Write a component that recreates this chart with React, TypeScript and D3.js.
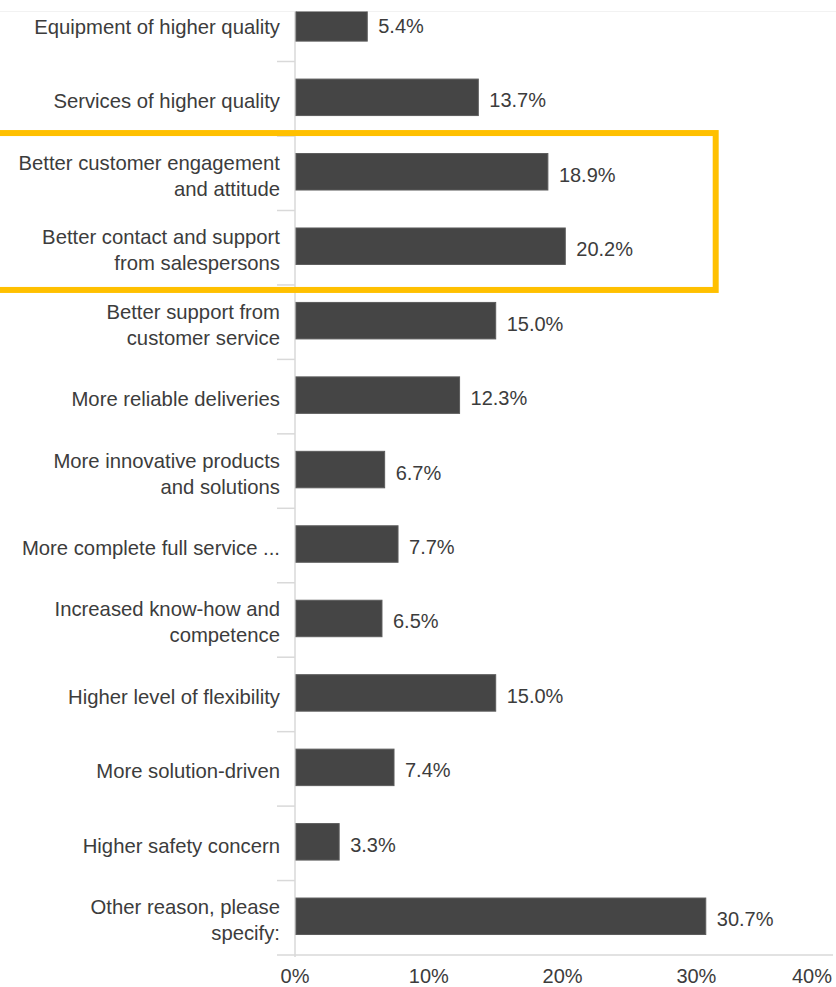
import React from "react";
import * as d3 from "d3";

const categories: string[] = [
  "Equipment of higher quality",
  "Services of higher quality",
  "Better customer engagement\nand attitude",
  "Better contact and support\nfrom salespersons",
  "Better support from\ncustomer service",
  "More reliable deliveries",
  "More innovative products\nand solutions",
  "More complete full service ...",
  "Increased know-how and\ncompetence",
  "Higher level of flexibility",
  "More solution-driven",
  "Higher safety concern",
  "Other reason, please\nspecify:",
];

const values: number[] = [5.4, 13.7, 18.9, 20.2, 15.0, 12.3, 6.7, 7.7, 6.5, 15.0, 7.4, 3.3, 30.7];

const xTicks: number[] = [0, 10, 20, 30, 40];

const highlighted: number[] = [2, 3];

const W = 836;
const H = 987;
const AXIS_X = 295;
const AXIS_Y = 955;
const STEP = 74.45;
const TOP = AXIS_Y - STEP * categories.length;
const CLIP_TOP = 11.5;
const FONT = "'Liberation Sans', Arial, sans-serif";
const TEXT = "#3c3c3c";
const GRID = "#d9d9d9";
const TEXT_DY = 2.5;

export default function App() {
  const x = d3.scaleLinear().domain([0, 40]).range([AXIS_X, AXIS_X + 535.2]);
  const y = d3
    .scaleBand<number>()
    .domain(d3.range(categories.length))
    .range([TOP, AXIS_Y])
    .paddingInner(0.51)
    .paddingOuter(0.255);
  const bw = y.bandwidth();
  const step = y.step();
  const bandTop = (i: number) => TOP + i * step;
  const center = (i: number) => bandTop(i) + step / 2;

  const hlStart = d3.min(highlighted)!;
  const hlEnd = d3.max(highlighted)!;
  const boxY = bandTop(hlStart) - 3;
  const boxH = bandTop(hlEnd) + step + 5 - boxY;

  return (
    <svg
      width={W}
      height={H}
      style={{ position: "absolute", left: 0, top: 0, background: "#fff" }}
      fontFamily={FONT}
    >
      <defs>
        <clipPath id="plotclip">
          <rect x={0} y={CLIP_TOP} width={W} height={H - CLIP_TOP} />
        </clipPath>
      </defs>
      <line x1={0} x2={W} y1={CLIP_TOP} y2={CLIP_TOP} stroke="#f2f2f2" strokeWidth={1} />
      <g clipPath="url(#plotclip)">
        {/* category separator ticks */}
        {d3.range(1, categories.length).map((i) => (
          <line
            key={"t" + i}
            x1={AXIS_X - 18}
            x2={AXIS_X}
            y1={bandTop(i)}
            y2={bandTop(i)}
            stroke={GRID}
            strokeWidth={1.5}
          />
        ))}
        {/* vertical axis */}
        <line x1={AXIS_X} x2={AXIS_X} y1={TOP} y2={AXIS_Y + 2} stroke={GRID} strokeWidth={1.5} />
        {/* horizontal axis */}
        <line x1={AXIS_X - 18} x2={833} y1={AXIS_Y} y2={AXIS_Y} stroke={GRID} strokeWidth={1.5} />
        {/* bars */}
        {values.map((v, i) => (
          <rect
            key={"b" + i}
            x={x(0) + 1}
            y={(y(i) as number) - 1.5}
            width={x(v) - x(0) - 1}
            height={bw}
            fill="#454545"
            stroke="#5c5c5c"
            strokeWidth={1}
          />
        ))}
        {/* value labels */}
        {values.map((v, i) => (
          <text
            key={"v" + i}
            x={x(v) + 11}
            y={center(i) + TEXT_DY - 1}
            dominantBaseline="central"
            fontSize={20}
            fill={TEXT}
          >
            {v.toFixed(1) + "%"}
          </text>
        ))}
        {/* category labels */}
        {categories.map((c, i) => {
          const lines = c.split("\n");
          const n = lines.length;
          return (
            <text key={"c" + i} textAnchor="end" fontSize={20.3} fill={TEXT}>
              {lines.map((l, j) => (
                <tspan
                  key={j}
                  x={280}
                  y={center(i) + TEXT_DY + (j - (n - 1) / 2) * 26}
                  dominantBaseline="central"
                >
                  {l}
                </tspan>
              ))}
            </text>
          );
        })}
      </g>
      {/* x tick labels */}
      {xTicks.map((t, i) => (
        <text
          key={"x" + t}
          x={i === xTicks.length - 1 ? 832 : x(t)}
          y={983}
          textAnchor={i === xTicks.length - 1 ? "end" : "middle"}
          fontSize={20}
          fill={TEXT}
        >
          {t + "%"}
        </text>
      ))}
      {/* highlight box */}
      <rect
        x={-10}
        y={boxY}
        width={715.7 + 10}
        height={boxH}
        fill="none"
        stroke="#FFC000"
        strokeWidth={6}
      />
    </svg>
  );
}
